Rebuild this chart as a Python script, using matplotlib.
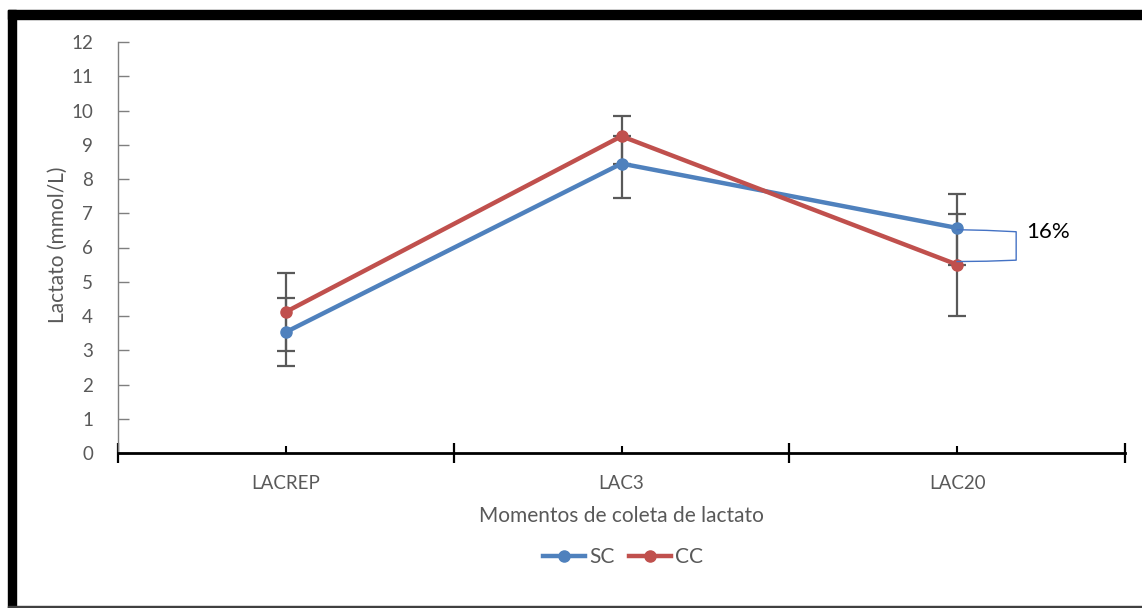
import matplotlib
matplotlib.use("Agg")
import matplotlib.pyplot as plt
from matplotlib.patches import Rectangle
from matplotlib.lines import Line2D

categories = ["LACREP", "LAC3", "LAC20"]
sc_values = [3.53, 8.45, 6.57]
cc_values = [4.12, 9.25, 5.50]
sc_err_minus = [1.0, 1.0, 1.07]
sc_err_plus = [1.0, 0.8, 1.0]
cc_err_minus = [1.15, 0.8, 1.5]
cc_err_plus = [1.15, 0.6, 1.47]
yticks = list(range(0, 13))
annot_text = "16%"

W, H = 1142, 608
plt.rcParams['font.family'] = ['Lato', 'DejaVu Sans']
fig = plt.figure(figsize=(W / 100, H / 100), dpi=100)

# border
fig.patches.append(Rectangle((8 / W, 0), 8 / W, 1 - 10 / H, transform=fig.transFigure,
                             color='black', zorder=0))
fig.patches.append(Rectangle((8 / W, 1 - 19 / H), 1 - 8 / W, 9 / H, transform=fig.transFigure,
                             color='black', zorder=0))
fig.patches.append(Rectangle((8 / W, 0), 1 - 8 / W, 2 / H, transform=fig.transFigure,
                             color='#404040', zorder=0))

ax = fig.add_axes([118 / W, (H - 453) / H, (1125 - 118) / W, (453 - 42) / H])
x = list(range(len(categories)))

gray = '#595959'
blue = '#4F81BD'
red = '#C0504D'

ax.errorbar(x, sc_values, yerr=[sc_err_minus, sc_err_plus], fmt='none', ecolor=gray,
            elinewidth=1.6, capsize=6.5, capthick=1.6, zorder=2)
ax.errorbar(x, cc_values, yerr=[cc_err_minus, cc_err_plus], fmt='none', ecolor=gray,
            elinewidth=1.6, capsize=6.5, capthick=1.6, zorder=2)
ax.plot(x, sc_values, color=blue, lw=3.2, marker='o', ms=8, zorder=3.5, label='SC')
ax.plot(x, cc_values, color=red, lw=3.2, marker='o', ms=8, zorder=4.5, label='CC')

ax.set_xlim(-0.5, 2.5)
ax.set_ylim(0, 12)

for s in ['top', 'right']:
    ax.spines[s].set_visible(False)
ax.spines['left'].set_color('#7f7f7f')
ax.spines['left'].set_linewidth(1.0)
ax.spines['bottom'].set_color('black')
ax.spines['bottom'].set_linewidth(2.0)

ax.set_yticks(yticks)
ax.tick_params(axis='y', direction='in', length=8, width=1, color='#7f7f7f',
               labelsize=13.5, labelcolor=gray, pad=18)

ax.set_xticks([-0.5, 0.5, 1.5, 2.5])
ax.set_xticklabels([])
ax.tick_params(axis='x', which='major', direction='inout', length=15, width=1.6, color='black')
ax.set_xticks(x, minor=True)
ax.set_xticklabels(categories, minor=True)
ax.tick_params(axis='x', which='minor', direction='in', length=5, width=1.5, color='black',
               labelsize=13.5, labelcolor=gray, pad=16)

ax.set_ylabel('Lactato (mmol/L)', fontsize=15, color=gray)
ax.yaxis.set_label_coords((68 - 118) / (1125 - 118), (453 - 245) / (453 - 42))
ax.set_xlabel('Momentos de coleta de lactato', fontsize=15, color=gray)
ax.xaxis.set_label_coords(0.5, -(506 - 453) / (453 - 42))

# bracket annotation
bx = 2 + (1016 - 957) / ((1125 - 118) / 3)
ax.plot([2, bx * 0.5 + 1.0, bx, bx, bx * 0.5 + 1.0, 2],
        [6.52, 6.50, 6.46, 5.63, 5.60, 5.59], color='#4472C4', lw=1.0, zorder=5,
        clip_on=False)
ax.text(2 + (1026 - 957) / ((1125 - 118) / 3), 6.45, annot_text, fontsize=16,
        color='black', va='center', ha='left')

handles = [Line2D([], [], color=blue, lw=3.2, marker='o', ms=8),
           Line2D([], [], color=red, lw=3.2, marker='o', ms=8)]
fig.legend(handles, ['SC', 'CC'], loc='center', bbox_to_anchor=(623 / W, (H - 557) / H),
           ncol=2, frameon=False, fontsize=15, labelcolor=gray, handlelength=2.0,
           handletextpad=0.2, columnspacing=0.7)

fig.savefig('out.png', dpi=100)
